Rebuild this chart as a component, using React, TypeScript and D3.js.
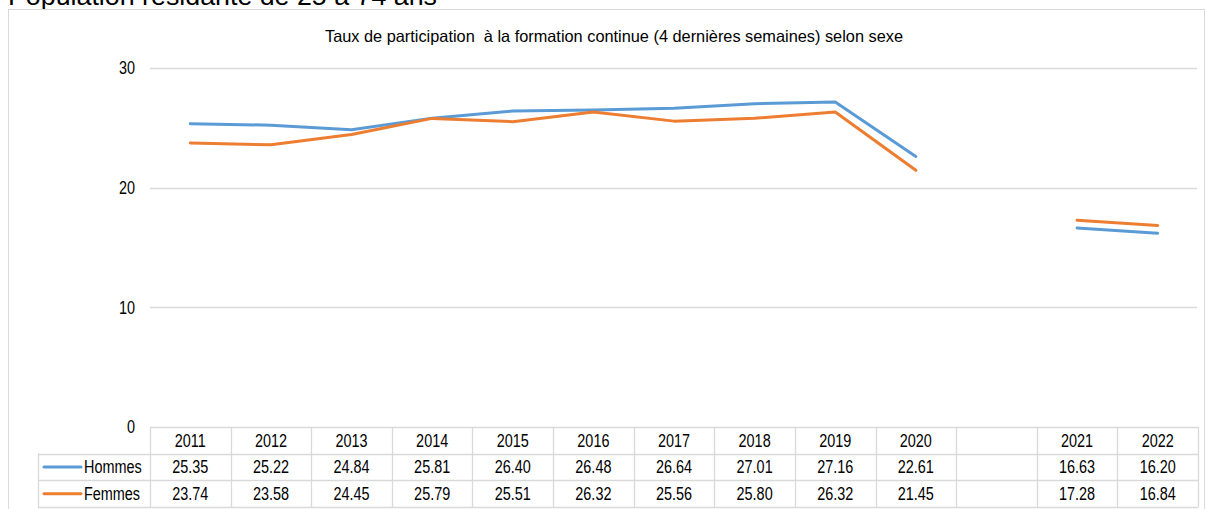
import React, { useEffect, useRef } from "react";
import * as d3 from "d3";

const years = ["2011", "2012", "2013", "2014", "2015", "2016", "2017", "2018", "2019", "2020", "", "2021", "2022"];
const hommes = [25.35, 25.22, 24.84, 25.81, 26.4, 26.48, 26.64, 27.01, 27.16, 22.61, null, 16.63, 16.2];
const femmes = [23.74, 23.58, 24.45, 25.79, 25.51, 26.32, 25.56, 25.8, 26.32, 21.45, null, 17.28, 16.84];
const yTicks = [0, 10, 20, 30];

const series = [
  { name: "Hommes", values: hommes, color: "#5b9bd5" },
  { name: "Femmes", values: femmes, color: "#ed7d31" },
];

const FONT = "'Liberation Sans', Arial, sans-serif";
const SQUEEZE = 0.82; // the reference uses a narrow face

export default function App() {
  const ref = useRef<SVGSVGElement>(null);

  useEffect(() => {
    const width = 1206;
    const height = 509;
    const left = 150;
    const right = 1198;
    const top = 68;
    const bottom = 427;
    const rowH = 26.7;
    const grid = "#d9d9d9";

    const svg = d3.select(ref.current);
    svg.selectAll("*").remove();
    svg.attr("width", width).attr("height", height);

    svg.append("rect").attr("width", width).attr("height", height).attr("fill", "#fff");

    // narrow text helper
    const label = (
      parent: d3.Selection<SVGGElement, unknown, null, undefined>,
      tx: number,
      ty: number,
      txt: string,
      anchor: string
    ) =>
      parent
        .append("text")
        .attr("transform", `translate(${tx},${ty}) scale(${SQUEEZE},1)`)
        .attr("dy", "0.35em")
        .attr("text-anchor", anchor)
        .style("font-family", FONT)
        .style("font-size", "17.6px")
        .attr("fill", "#000")
        .text(txt);

    // page heading, cut by the top edge
    svg
      .append("text")
      .attr("x", 8)
      .attr("y", 5)
      .attr("textLength", 429)
      .attr("lengthAdjust", "spacingAndGlyphs")
      .style("font-family", FONT)
      .style("font-size", "26.7px")
      .attr("fill", "#000")
      .text("Population résidante de 25 à 74 ans");

    // chart frame
    svg
      .append("rect")
      .attr("x", 8.5)
      .attr("y", 9.5)
      .attr("width", 1196)
      .attr("height", 520)
      .attr("fill", "none")
      .attr("stroke", grid);

    svg
      .append("text")
      .attr("x", 614)
      .attr("y", 42)
      .attr("text-anchor", "middle")
      .attr("textLength", 578)
      .attr("lengthAdjust", "spacingAndGlyphs")
      .style("font-family", FONT)
      .style("font-size", "16.5px")
      .style("white-space", "pre")
      .attr("fill", "#000")
      .text("Taux de participation  à la formation continue (4 dernières semaines) selon sexe");

    const x = d3.scaleBand().domain(years).range([left, right]);
    const y = d3.scaleLinear().domain([0, 30]).range([bottom, top]);

    const g = svg.append("g");

    // gridlines + y labels
    g.selectAll(".grid")
      .data(yTicks.filter((t) => t > 0))
      .enter()
      .append("line")
      .attr("x1", left)
      .attr("x2", right - 1)
      .attr("y1", (d) => Math.round(y(d)) + 0.5)
      .attr("y2", (d) => Math.round(y(d)) + 0.5)
      .attr("stroke", grid)
      .attr("stroke-width", 1.3);

    yTicks.forEach((d) => label(g, 135, y(d), String(d), "end"));

    // lines
    const line = d3
      .line<number | null>()
      .defined((d) => d !== null)
      .x((_, i) => (x(years[i]) as number) + x.bandwidth() / 2)
      .y((d) => y(d as number));

    series.forEach((s) => {
      g.append("path")
        .datum(s.values)
        .attr("d", line)
        .attr("fill", "none")
        .attr("stroke", s.color)
        .attr("stroke-width", 3)
        .attr("stroke-linecap", "round")
        .attr("stroke-linejoin", "round");
    });

    // data table
    const t = svg.append("g");
    const rows = [bottom, bottom + rowH, bottom + 2 * rowH, bottom + 3 * rowH];
    rows.forEach((ry, i) => {
      t.append("line")
        .attr("x1", i === 0 ? left : 38)
        .attr("x2", right)
        .attr("y1", Math.round(ry) + 0.5)
        .attr("y2", Math.round(ry) + 0.5)
        .attr("stroke", grid)
        .attr("stroke-width", 1.3);
    });
    const cols = years.map((yr) => x(yr) as number).concat([right]);
    cols.forEach((cx) => {
      t.append("line")
        .attr("x1", Math.round(cx) + 0.5)
        .attr("x2", Math.round(cx) + 0.5)
        .attr("y1", bottom)
        .attr("y2", rows[3])
        .attr("stroke", grid)
        .attr("stroke-width", 1.3);
    });
    t.append("line")
      .attr("x1", 38.5)
      .attr("x2", 38.5)
      .attr("y1", rows[1])
      .attr("y2", rows[3])
      .attr("stroke", grid)
      .attr("stroke-width", 1.3);

    years.forEach((yr) => label(t, (x(yr) as number) + x.bandwidth() / 2, bottom + rowH / 2, yr, "middle"));

    series.forEach((s, si) => {
      const cy = bottom + rowH * (si + 1) + rowH / 2;
      t.append("line")
        .attr("x1", 44)
        .attr("x2", 81)
        .attr("y1", cy)
        .attr("y2", cy)
        .attr("stroke", s.color)
        .attr("stroke-width", 3)
        .attr("stroke-linecap", "round");
      label(t, 84, cy, s.name, "start");
      s.values.forEach((v, i) => {
        if (v === null) return;
        label(t, (x(years[i]) as number) + x.bandwidth() / 2, cy, d3.format(".2f")(v), "middle");
      });
    });
  }, []);

  return (
    <div style={{ position: "absolute", left: 0, top: 0 }}>
      <svg ref={ref}></svg>
    </div>
  );
}
